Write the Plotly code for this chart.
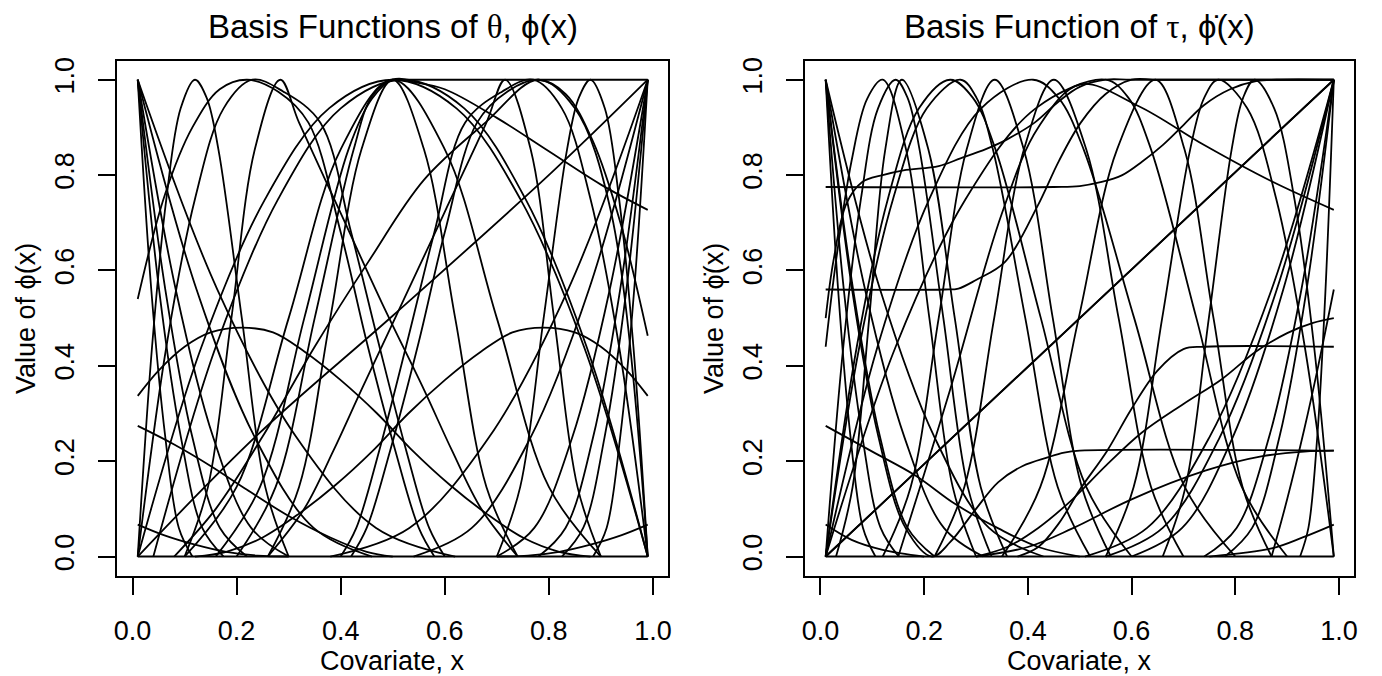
import plotly.graph_objects as go

# ---------------- data ----------------
X_TICKS = [0.0, 0.2, 0.4, 0.6, 0.8, 1.0]
X_TICK_LABELS = ["0.0", "0.2", "0.4", "0.6", "0.8", "1.0"]
Y_TICKS = [0.0, 0.2, 0.4, 0.6, 0.8, 1.0]
Y_TICK_LABELS = ["0.0", "0.2", "0.4", "0.6", "0.8", "1.0"]

# shared shapes of the steep corner fans
FAN_DOWN_Y = [1.0, 0.56, 0.25, 0.06, 0.0]
FAN_UP_Y = [0.0, 0.06, 0.25, 0.56, 1.0]

# ---- left panel: basis functions of theta ----
THETA_FAN_DOWN_X = [
    [0.01, 0.036, 0.063, 0.089, 0.115],
    [0.01, 0.051, 0.093, 0.134, 0.175],
    [0.01, 0.063, 0.115, 0.168, 0.22],
    [0.01, 0.083, 0.155, 0.228, 0.30],
    [0.01, 0.123, 0.235, 0.348, 0.46],
    [0.01, 0.163, 0.315, 0.468, 0.62],
]
THETA_FAN_UP_X = [
    [0.885, 0.911, 0.937, 0.964, 0.99],
    [0.825, 0.866, 0.907, 0.949, 0.99],
    [0.78, 0.832, 0.885, 0.937, 0.99],
    [0.70, 0.772, 0.845, 0.917, 0.99],
    [0.54, 0.652, 0.765, 0.877, 0.99],
    [0.38, 0.532, 0.685, 0.837, 0.99],
]
THETA_CURVES_X = [
    [0.01, 0.0375, 0.065, 0.0925, 0.12, 0.1425, 0.165, 0.21, 0.255, 0.30],
    [0.01, 0.0625, 0.115, 0.1675, 0.22, 0.28, 0.338, 0.40, 0.45, 0.505, 0.55, 0.58],
    [0.01, 0.065, 0.12, 0.175, 0.23, 0.29, 0.361, 0.42, 0.47, 0.526, 0.57, 0.60],
    [0.10, 0.145, 0.19, 0.235, 0.284, 0.32, 0.40, 0.48, 0.56, 0.614, 0.67, 0.74],
    [0.70, 0.745, 0.79, 0.835, 0.8575, 0.88, 0.9075, 0.935, 0.9625, 0.99],
    [0.40, 0.43, 0.474, 0.53, 0.58, 0.639, 0.71, 0.77, 0.825, 0.88, 0.935, 0.99],
    [0.26, 0.33, 0.386, 0.44, 0.52, 0.60, 0.68, 0.716, 0.765, 0.81, 0.855, 0.90],
    [0.42, 0.45, 0.495, 0.55, 0.60, 0.662, 0.72, 0.78, 0.8325, 0.885, 0.9375, 0.99],
    [0.01, 0.1325, 0.255, 0.3775, 0.5, 0.6225, 0.745, 0.8675, 0.99],
    [0.10, 0.20, 0.30, 0.40, 0.50, 0.60, 0.70, 0.80, 0.90],
    [0.26, 0.32, 0.38, 0.44, 0.50, 0.56, 0.62, 0.68, 0.74],
    [0.16, 0.245, 0.33, 0.415, 0.46, 0.50, 0.54, 0.99],
    [0.20, 0.275, 0.35, 0.425, 0.46, 0.50, 0.54, 0.60, 0.70, 0.80, 0.90, 0.99],
    [0.04, 0.16, 0.28, 0.40, 0.52, 0.6375, 0.755, 0.8725, 0.99],
    [0.01, 0.05, 0.10, 0.15, 0.21, 0.27, 0.33, 0.40, 0.47, 0.54, 0.61, 0.68, 0.75, 0.82, 0.88],
    [0.12, 0.18, 0.25, 0.32, 0.39, 0.46, 0.53, 0.60, 0.67, 0.73, 0.79, 0.85, 0.90, 0.95, 0.99],
    [0.01, 0.08, 0.15, 0.22, 0.30, 0.38, 0.45, 0.50],
    [0.01, 0.06, 0.12, 0.18, 0.24, 0.30],
    [0.70, 0.76, 0.82, 0.88, 0.94, 0.99],
    [0.01, 0.24, 0.50, 0.805, 0.99],
    [0.08, 0.16, 0.249, 0.35, 0.453, 0.56, 0.678, 0.78, 0.85, 0.92, 0.99],
]
THETA_CURVES_Y = [
    [0, 0.44, 0.75, 0.94, 1, 0.962, 0.854, 0.5, 0.146, 0],
    [0.54, 0.76, 0.90, 0.98, 1, 0.975, 0.91, 0.68, 0.45, 0.222, 0.06, 0],
    [0, 0.44, 0.75, 0.94, 1, 0.975, 0.91, 0.68, 0.46, 0.222, 0.06, 0],
    [0, 0.146, 0.5, 0.854, 1, 0.91, 0.72, 0.53, 0.35, 0.222, 0.10, 0],
    [0, 0.146, 0.5, 0.854, 0.962, 1, 0.94, 0.75, 0.44, 0],
    [0, 0.06, 0.222, 0.46, 0.68, 0.91, 0.975, 1, 0.94, 0.75, 0.44, 0],
    [0, 0.10, 0.222, 0.35, 0.536, 0.723, 0.91, 1, 0.854, 0.5, 0.146, 0],
    [0, 0.06, 0.222, 0.45, 0.68, 0.91, 0.975, 1, 0.97, 0.87, 0.70, 0.463],
    [0, 0.44, 0.75, 0.94, 1, 0.94, 0.75, 0.44, 0],
    [0, 0.146, 0.5, 0.854, 1, 0.854, 0.5, 0.146, 0],
    [0, 0.146, 0.5, 0.854, 1, 0.854, 0.5, 0.146, 0],
    [0, 0.146, 0.5, 0.854, 0.96, 1, 1, 1],
    [0, 0.146, 0.5, 0.854, 0.965, 1, 0.995, 0.98, 0.92, 0.85, 0.78, 0.727],
    [0, 0.44, 0.75, 0.94, 1, 0.94, 0.75, 0.44, 0],
    [0.337, 0.39, 0.44, 0.47, 0.48, 0.47, 0.43, 0.37, 0.30, 0.22, 0.15, 0.09, 0.04, 0.01, 0],
    [0, 0.01, 0.04, 0.09, 0.15, 0.22, 0.30, 0.37, 0.43, 0.47, 0.48, 0.47, 0.44, 0.39, 0.337],
    [0.274, 0.235, 0.19, 0.14, 0.085, 0.04, 0.01, 0],
    [0.067, 0.045, 0.025, 0.01, 0.002, 0],
    [0, 0.002, 0.01, 0.025, 0.045, 0.067],
    [0, 0.255, 0.505, 0.805, 1.0],
    [0, 0.10, 0.25, 0.44, 0.618, 0.79, 0.91, 1, 0.94, 0.72, 0],
]

# ---- right panel: basis functions of tau ----
TAU_FAN_DOWN_X = [
    [0.01, 0.034, 0.058, 0.082, 0.106],
    [0.01, 0.045, 0.081, 0.116, 0.151],
    [0.01, 0.063, 0.115, 0.168, 0.22],
    [0.01, 0.086, 0.162, 0.238, 0.314],
    [0.01, 0.115, 0.22, 0.325, 0.43],
]
TAU_FAN_UP_X = [
    [0.51, 0.63, 0.75, 0.87, 0.99],
    [0.55, 0.66, 0.77, 0.88, 0.99],
    [0.60, 0.6975, 0.795, 0.8925, 0.99],
    [0.74, 0.8025, 0.865, 0.9275, 0.99],
    [0.78, 0.8325, 0.885, 0.9375, 0.99],
    [0.925, 0.941, 0.958, 0.974, 0.99],
]
TAU_DIAGONAL_X = [0.01, 0.99]
TAU_DIAGONAL_Y = [0.0, 1.0]
TAU_CURVES_X = [
    [0.01, 0.044, 0.078, 0.111, 0.145, 0.168, 0.191, 0.237, 0.284, 0.33],
    [0.03, 0.062, 0.094, 0.125, 0.157, 0.208, 0.259, 0.309, 0.36],
    [0.01, 0.07, 0.13, 0.19, 0.25, 0.294, 0.3375, 0.425, 0.5125, 0.60],
    [0.01, 0.075, 0.14, 0.205, 0.27, 0.301, 0.3325, 0.395, 0.4575, 0.52],
    [0.12, 0.174, 0.228, 0.282, 0.336, 0.392, 0.448, 0.504, 0.56],
    [0.01, 0.145, 0.28, 0.415, 0.55, 0.594, 0.6375, 0.725, 0.8125, 0.90],
    [0.35, 0.424, 0.498, 0.572, 0.646, 0.702, 0.758, 0.814, 0.87],
    [0.55, 0.604, 0.659, 0.713, 0.740, 0.767, 0.823, 0.879, 0.934, 0.99],
    [0.66, 0.704, 0.749, 0.793, 0.815, 0.837, 0.875, 0.914, 0.952, 0.99],
    [0.01, 0.11, 0.21, 0.31, 0.41, 0.459, 0.5075, 0.605, 0.7025, 0.80],
    [0.22, 0.2775, 0.335, 0.3925, 0.45, 0.5125, 0.575, 0.6375, 0.70],
    [0.01, 0.45, 0.50, 0.54, 0.582, 0.62, 0.66, 0.70, 0.74, 0.79, 0.84, 0.88, 0.99],
    [0.01, 0.24, 0.266, 0.30, 0.356, 0.419, 0.46, 0.502, 0.55, 0.60, 0.65, 0.99],
    [0.01, 0.025, 0.05, 0.08, 0.12, 0.16, 0.228, 0.27, 0.32, 0.36, 0.413, 0.46, 0.50, 0.55, 0.60, 0.99],
    [0.01, 0.03, 0.06, 0.09, 0.12, 0.165, 0.21, 0.255, 0.30],
    [0.01, 0.061, 0.112, 0.164, 0.215, 0.25, 0.30, 0.343, 0.39, 0.438, 0.47, 0.50, 0.99],
    [0.38, 0.42, 0.46, 0.50, 0.553, 0.60, 0.65, 0.70, 0.74, 0.99],
    [0.30, 0.36, 0.42, 0.486, 0.55, 0.62, 0.70, 0.774, 0.84, 0.901, 0.95, 0.99],
    [0.30, 0.40, 0.486, 0.60, 0.742, 0.85, 0.933, 0.99],
    [0.87, 0.90, 0.933, 0.96, 0.99],
    [0.15, 0.25, 0.35, 0.42, 0.50, 0.613, 0.74, 0.868, 0.99],
    [0.01, 0.10, 0.183, 0.26, 0.343, 0.42, 0.50],
    [0.01, 0.06, 0.12, 0.20],
    [0.75, 0.87, 0.93, 0.99],
]
TAU_CURVES_Y = [
    [0, 0.44, 0.75, 0.94, 1, 0.962, 0.854, 0.5, 0.146, 0],
    [0, 0.146, 0.5, 0.854, 1, 0.854, 0.5, 0.146, 0],
    [0, 0.44, 0.75, 0.94, 1, 0.962, 0.854, 0.5, 0.146, 0],
    [0, 0.44, 0.75, 0.94, 1, 0.962, 0.854, 0.5, 0.146, 0],
    [0, 0.146, 0.5, 0.854, 1, 0.854, 0.5, 0.146, 0],
    [0, 0.44, 0.75, 0.94, 1, 0.962, 0.854, 0.5, 0.146, 0],
    [0, 0.146, 0.5, 0.854, 1, 0.854, 0.5, 0.146, 0],
    [0, 0.146, 0.5, 0.854, 0.962, 1, 0.94, 0.75, 0.44, 0],
    [0, 0.146, 0.5, 0.854, 0.962, 1, 0.94, 0.75, 0.44, 0],
    [0, 0.44, 0.75, 0.94, 1, 0.962, 0.854, 0.5, 0.146, 0],
    [0, 0.146, 0.5, 0.854, 1, 0.854, 0.5, 0.146, 0],
    [0.775, 0.775, 0.777, 0.785, 0.80, 0.828, 0.863, 0.905, 0.947, 0.98, 0.997, 1.0, 1.0],
    [0.56, 0.56, 0.562, 0.58, 0.618, 0.736, 0.83, 0.91, 0.97, 1.0, 1.0, 1.0],
    [0.50, 0.62, 0.74, 0.785, 0.80, 0.81, 0.819, 0.835, 0.855, 0.875, 0.91, 0.955, 0.985, 1.0, 1.0, 1.0],
    [0.44, 0.62, 0.83, 0.96, 1, 0.854, 0.5, 0.146, 0],
    [1.0, 0.56, 0.25, 0.06, 0, 0.03, 0.10, 0.156, 0.19, 0.208, 0.218, 0.222, 0.222],
    [0, 0.02, 0.07, 0.14, 0.222, 0.31, 0.39, 0.435, 0.44, 0.44],
    [0, 0.02, 0.06, 0.12, 0.19, 0.26, 0.32, 0.372, 0.43, 0.469, 0.49, 0.50],
    [0, 0.02, 0.059, 0.12, 0.18, 0.21, 0.22, 0.222],
    [0, 0.12, 0.267, 0.40, 0.56],
    [0, 0.35, 0.72, 0.90, 0.99, 0.945, 0.863, 0.788, 0.727],
    [0.274, 0.22, 0.17, 0.11, 0.059, 0.02, 0],
    [0.067, 0.035, 0.014, 0],
    [0, 0.017, 0.04, 0.067],
]

BASELINE_X = [0.01, 0.99]
BASELINE_Y = [0.0, 0.0]

# ---------------- figure ----------------
W, H = 1382, 676
LINE_W = 1.8
fig = go.Figure()


def add_line(xs, ys, axis, shape):
    fig.add_trace(go.Scatter(
        x=xs, y=ys, mode="lines",
        line=dict(color="black", width=LINE_W, shape=shape, smoothing=1.0),
        xaxis="x" if axis == 1 else "x2",
        yaxis="y" if axis == 1 else "y2",
        hoverinfo="skip", showlegend=False,
    ))


# left panel
add_line(BASELINE_X, BASELINE_Y, 1, "linear")
for xs in THETA_FAN_DOWN_X:
    add_line(xs, FAN_DOWN_Y, 1, "spline")
for xs in THETA_FAN_UP_X:
    add_line(xs, FAN_UP_Y, 1, "spline")
for xs, ys in zip(THETA_CURVES_X, THETA_CURVES_Y):
    add_line(xs, ys, 1, "spline")

# right panel
add_line(BASELINE_X, BASELINE_Y, 2, "linear")
for xs in TAU_FAN_DOWN_X:
    add_line(xs, FAN_DOWN_Y, 2, "spline")
for xs in TAU_FAN_UP_X:
    add_line(xs, FAN_UP_Y, 2, "spline")
add_line(TAU_DIAGONAL_X, TAU_DIAGONAL_Y, 2, "linear")
add_line(TAU_DIAGONAL_X, TAU_DIAGONAL_Y, 2, "linear")
for xs, ys in zip(TAU_CURVES_X, TAU_CURVES_Y):
    add_line(xs, ys, 2, "spline")

FONT = "Liberation Sans, Arial, Helvetica, sans-serif"
TICK_SIZE = 27
TITLE_SIZE = 33

y_bottom = 1 - 575 / H
y_top = 1 - 57 / H
dom_left = [114 / W, 668 / W]
dom_right = [806 / W, 1358 / W]

xaxis_common = dict(
    range=[-0.0292, 1.0292], showgrid=False, zeroline=False,
    showline=True, mirror=True, linecolor="black", linewidth=2,
    ticks="outside", ticklen=17, tickwidth=2, tickcolor="black",
    tickvals=X_TICKS, ticktext=X_TICK_LABELS,
    tickfont=dict(family=FONT, size=TICK_SIZE, color="black"),
    ticklabelstandoff=13, fixedrange=True,
)
yaxis_common = dict(
    range=[-0.04, 1.04], showgrid=False, zeroline=False,
    showline=True, mirror=True, linecolor="black", linewidth=2,
    ticks="outside", ticklen=17, tickwidth=2, tickcolor="black",
    tickvals=Y_TICKS, ticktext=Y_TICK_LABELS, tickangle=-90,
    tickfont=dict(family=FONT, size=TICK_SIZE, color="black"),
    ticklabelstandoff=14, domain=[y_bottom, y_top], fixedrange=True,
)

fig.update_layout(
    width=W, height=H, autosize=False,
    margin=dict(l=0, r=0, t=0, b=0),
    paper_bgcolor="white", plot_bgcolor="white",
    xaxis=dict(xaxis_common, domain=dom_left, anchor="y"),
    yaxis=dict(yaxis_common, anchor="x"),
    xaxis2=dict(xaxis_common, domain=dom_right, anchor="y2"),
    yaxis2=dict(yaxis_common, anchor="x2"),
    font=dict(family=FONT, color="black"),
)

SERIF = "font-family:Liberation Serif, DejaVu Serif, serif"
annots = [
    dict(text=f'Basis Functions of <span style="{SERIF}">θ</span>, ϕ(x)',
         x=(114 + 668) / 2 / W, y=1 - 23 / H, size=TITLE_SIZE, angle=0),
    dict(text=f'Basis Function of <span style="{SERIF}">τ</span>, ϕ\u0307(x)',
         x=(806 + 1358) / 2 / W, y=1 - 23 / H, size=TITLE_SIZE, angle=0),
    dict(text="Covariate, x", x=391 / W, y=1 - 661 / H, size=TICK_SIZE, angle=0),
    dict(text="Covariate, x", x=1082 / W, y=1 - 661 / H, size=TICK_SIZE, angle=0),
    dict(text="Value of ϕ(x)", x=22 / W, y=1 - 316 / H, size=TICK_SIZE, angle=-90),
    dict(text="Value of ϕ\u0307(x)", x=714 / W, y=1 - 316 / H, size=TICK_SIZE, angle=-90),
]
for a in annots:
    fig.add_annotation(
        text=a["text"], x=a["x"], y=a["y"], xref="paper", yref="paper",
        xanchor="center", yanchor="middle", showarrow=False, textangle=a["angle"],
        font=dict(family=FONT, size=a["size"], color="black"),
    )

fig.write_html(
    "out.html", include_plotlyjs=True,
    config={"displayModeBar": False},
    post_script="document.body.style.margin='0px';document.body.style.overflow='hidden';",
)
